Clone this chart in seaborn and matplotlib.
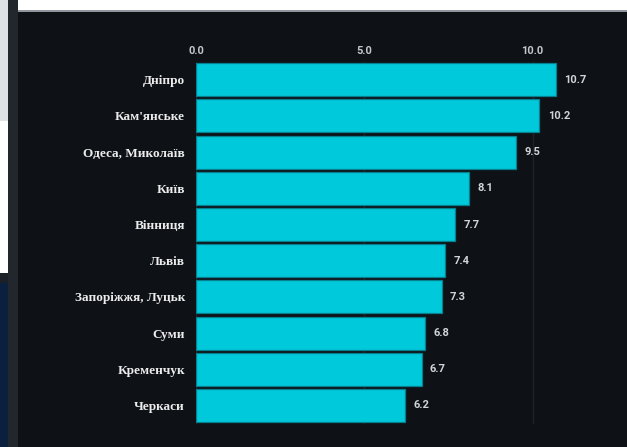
import matplotlib
matplotlib.use("Agg")
import matplotlib.pyplot as plt
from matplotlib.patches import Rectangle
import seaborn as sns
import pandas as pd

# ---------- data ----------
cities = ["Дніпро", "Кам'янське", "Одеса, Миколаїв", "Київ", "Вінниця",
          "Львів", "Запоріжжя, Луцьк", "Суми", "Кременчук", "Черкаси"]
values = [10.7, 10.2, 9.5, 8.1, 7.7, 7.4, 7.3, 6.8, 6.7, 6.2]
xticks = [0, 5, 10]

BG = "#0e1216"
BAR = "#00c9db"
EDGE = "#06808f"

sns.set_theme(style="dark")
plt.rcParams["font.family"] = ["Roboto", "DejaVu Sans"]

W, H = 627, 447
fig = plt.figure(figsize=(W / 100, H / 100), dpi=100, facecolor=BG)


def px_rect(x0, y0, x1, y1, color):
    # rectangle given in screen pixels (top-left origin)
    fig.add_artist(Rectangle((x0 / W, 1 - y1 / H), (x1 - x0) / W, (y1 - y0) / H,
                             transform=fig.transFigure, color=color, lw=0, zorder=0))


# ---------- screenshot frame ----------
px_rect(0, 0, 8, 121, "#dfe2e5")
px_rect(0, 121, 8, 273, "#ffffff")
px_rect(0, 273, 8, 283, "#1b2027")
px_rect(0, 283, 8, 447, "#0b1f3f")
px_rect(8, 0, 18, 447, "#22272e")
px_rect(18, 0, 627, 10, "#ffffff")
px_rect(18, 10, 627, 11.5, "#8f969d")

# ---------- chart ----------
ax = fig.add_axes([196 / W, 1 - 423.6 / H, (600 - 196) / W, 362 / H])
ax.set_facecolor(BG)

df = pd.DataFrame({"city": cities, "value": values})
sns.barplot(data=df, x="value", y="city", color=BAR, saturation=1, width=0.91,
            edgecolor=EDGE, linewidth=0.9, ax=ax, zorder=3)

ax.set_xlim(0, 12)
ax.xaxis.tick_top()
ax.set_xticks(xticks)
ax.set_xticklabels([f"{t:.1f}" for t in xticks], color="#c3c7cc", fontsize=8,
                   fontweight="bold")
ax.tick_params(axis="x", length=0, pad=4)
ax.tick_params(axis="y", length=0, pad=8)
for lab in ax.get_yticklabels():
    lab.set_family(["Liberation Serif", "DejaVu Serif"])
    lab.set_fontweight("bold")
    lab.set_fontsize(9.5)
    lab.set_color("#ececec")

ax.grid(axis="x", color="#1d2228", lw=1)
ax.grid(axis="y", visible=False)
ax.set_axisbelow(True)
ax.set_xlabel("")
ax.set_ylabel("")
for s in ax.spines.values():
    s.set_visible(False)

ax.bar_label(ax.containers[0], labels=[f"{v:.1f}" for v in values], padding=6,
             color="#d2d5d8", fontsize=8, fontweight="bold")

fig.savefig("out.png", dpi=100, facecolor=BG)
